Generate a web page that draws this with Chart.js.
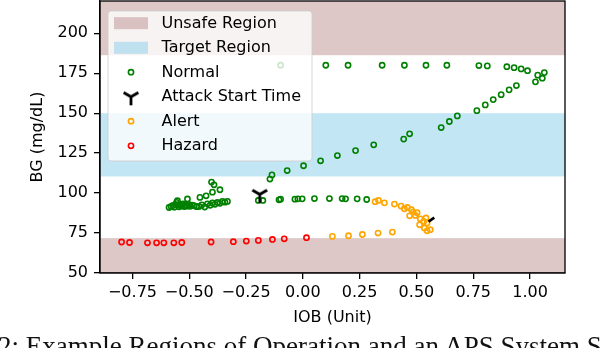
<!DOCTYPE html>
<html>
<head>
<meta charset="utf-8">
<script src="https://cdn.jsdelivr.net/npm/chart.js@4.4.0/dist/chart.umd.min.js"></script>
<style>
  html, body { margin: 0; padding: 0; background: #fff; }
  #wrap { position: relative; width: 602px; height: 348px; overflow: hidden; }
  #caption { position: absolute; left: -2px; top: 333px; white-space: nowrap;
    font-family: "Liberation Serif", "DejaVu Serif", serif; font-size: 27px; line-height: 27px; color: #111; }
</style>
</head>
<body>
<div id="wrap">
  <canvas id="c" width="602" height="348"></canvas>
  <div id="caption">2: Example Regions of Operation and an APS System State</div>
</div>
<script>
// ---------------- data ----------------
const xTicks = [-0.75, -0.5, -0.25, 0, 0.25, 0.5, 0.75, 1.0];
const yTicks = [50, 75, 100, 125, 150, 175, 200];
const xRange = [-0.893, 1.154];
const yRange = [50, 220.2];

const unsafeLow = [50, 71.8];
const unsafeHigh = [186.3, 220.2];
const targetRegion = [110.4, 150];

const normalX = [-0.589,-0.580,-0.572,-0.566,-0.560,-0.556,-0.550,-0.545,-0.540,-0.534,-0.528,-0.522,-0.516,-0.510,-0.503,-0.496,-0.488,-0.479,-0.468,-0.457,-0.445,-0.432,-0.420,-0.408,-0.398,-0.387,-0.376,-0.365,-0.354,-0.343,-0.332,
  -0.552,-0.508,-0.453,-0.426,-0.398,-0.365,-0.391,-0.402,
  -0.196,-0.176,-0.105,-0.098,-0.035,-0.022,-0.003,0.051,0.117,0.173,0.188,0.239,0.281,
  -0.145,-0.136,-0.069,0.003,0.078,0.152,0.232,0.312,0.444,0.470,0.609,0.645,0.680,0.766,0.803,0.838,0.873,0.908,0.940,
  1.024,1.054,1.034,1.063,0.989,0.961,0.930,0.898,0.812,0.775,0.634,0.542,0.447,0.349,0.199,0.101,-0.098];
const normalY = [91.0,91.6,92.3,91.2,93.0,94.2,92.4,91.4,92.8,91.9,93.2,91.6,92.6,91.8,92.9,91.7,92.5,92.1,91.5,91.6,92.6,91.3,93.3,92.4,93.8,93.0,94.1,93.6,94.8,94.3,94.8,
  95.2,96.3,97.3,98.3,100.6,102.1,105.2,106.9,
  95.4,95.4,95.8,96.2,96.2,96.4,96.4,96.6,96.6,96.6,96.4,96.4,96.0,
  108.8,111.4,114.1,117.1,120.2,123.5,126.6,130.2,133.8,137.1,141.0,144.8,148.3,151.6,155.2,158.5,161.6,164.6,167.3,
  169.6,171.9,173.8,175.4,176.6,177.7,178.5,179.1,179.6,179.8,180.0,180.0,180.0,180.0,180.0,180.0,180.0];

const alertX = [0.318,0.333,0.359,0.403,0.432,0.447,0.460,0.478,0.485,0.503,0.470,0.495,0.517,0.542,0.532,0.514,0.547,0.535,0.561,0.547,
  0.130,0.201,0.262,0.331,0.394];
const alertY = [94.6,95.4,93.9,93.1,91.9,90.2,91.0,89.6,88.1,87.7,85.8,86.0,83.9,84.4,82.3,80.2,81.3,78.1,77.1,76.4,
  72.9,73.3,74.1,75.0,75.6];

const hazardX = [-0.798,-0.763,-0.684,-0.644,-0.612,-0.568,-0.533,-0.404,-0.306,-0.249,-0.196,-0.134,-0.082,0.016];
const hazardY = [69.4,69.1,68.9,68.9,68.9,68.9,69.1,69.4,69.6,70.0,70.4,71.0,71.4,72.1];

const attackX = [-0.190];
const attackY = [98.9];
const attack2X = [0.566];
const attack2Y = [83.4];

const legendLabels = ["Unsafe Region", "Target Region", "Normal", "Attack Start Time", "Alert", "Hazard"];

// ---------------- styles ----------------
const UNSAFE_COLOR = "rgba(188,143,143,0.5)";
const TARGET_COLOR = "rgba(135,206,235,0.5)";
const GREEN = "#008000", ORANGE = "#ffa500", RED = "#ff0000";

function zip(xs, ys) { return xs.map((x, i) => ({x: x, y: ys[i]})); }

// tri_down marker image
const tri = document.createElement("canvas");
tri.width = 24; tri.height = 24;
(function () {
  const g = tri.getContext("2d");
  const cx = 12, cy = 11.5, L = 8.5;
  g.strokeStyle = "#000"; g.lineWidth = 2.8; g.lineCap = "butt";
  g.beginPath();
  g.moveTo(cx, cy); g.lineTo(cx, cy + L);
  g.moveTo(cx, cy); g.lineTo(cx - 0.866 * L, cy - 0.5 * L);
  g.moveTo(cx, cy); g.lineTo(cx + 0.866 * L, cy - 0.5 * L);
  g.stroke();
})();

const regionsPlugin = {
  id: "regions",
  beforeDatasetsDraw(chart) {
    const {ctx, chartArea: a, scales: {y}} = chart;
    ctx.save();
    const band = (r, col) => {
      const top = y.getPixelForValue(r[1]), bot = y.getPixelForValue(r[0]);
      ctx.fillStyle = col;
      ctx.fillRect(a.left, top, a.right - a.left, bot - top);
    };
    band(unsafeLow, UNSAFE_COLOR);
    band(unsafeHigh, UNSAFE_COLOR);
    band(targetRegion, TARGET_COLOR);
    ctx.restore();
  },
  afterDatasetsDraw(chart) {
    const {ctx, chartArea: a} = chart;
    ctx.save();
    ctx.strokeStyle = "#000"; ctx.lineWidth = 1.3;
    ctx.strokeRect(a.left, a.top, a.right - a.left, a.bottom - a.top);
    ctx.restore();
  },
  afterDraw(chart) {
    const ctx = chart.ctx;
    ctx.save();
    const bx = 108, by = 11, bw = 204, bh = 150, r = 3;
    ctx.beginPath();
    ctx.roundRect(bx, by, bw, bh, r);
    ctx.fillStyle = "rgba(255,255,255,0.8)";
    ctx.fill();
    ctx.strokeStyle = "rgba(204,204,204,0.8)";
    ctx.lineWidth = 1;
    ctx.stroke();
    const rows = [23.2, 47.8, 72.2, 96.8, 121.2, 145.8];
    ctx.font = "16px 'DejaVu Sans'";
    ctx.textBaseline = "middle";
    legendLabels.forEach((t, i) => {
      ctx.fillStyle = "#000";
      ctx.fillText(t, 161.5, rows[i] + 0.5);
    });
    ctx.fillStyle = UNSAFE_COLOR; ctx.fillRect(114, rows[0] - 6, 34, 12);
    ctx.fillStyle = TARGET_COLOR; ctx.fillRect(114, rows[1] - 6, 34, 12);
    const circ = (yy, col) => {
      ctx.beginPath(); ctx.arc(131, yy, 2.6, 0, Math.PI * 2);
      ctx.strokeStyle = col; ctx.lineWidth = 1.6; ctx.stroke();
    };
    circ(rows[2], GREEN);
    ctx.drawImage(tri, 131 - 12, rows[3] - 11.5);
    circ(rows[4], ORANGE);
    circ(rows[5], RED);
    ctx.restore();
  }
};

const hollow = (col) => ({
  pointRadius: 2.6, pointHoverRadius: 2.6, borderWidth: 1.6,
  borderColor: col, backgroundColor: "rgba(0,0,0,0)", pointStyle: "circle"
});

const noPad = () => ({left: 0, top: 0, right: 0, bottom: 0});

new Chart(document.getElementById("c"), {
  type: "scatter",
  data: {
    datasets: [
      { label: "Attack Start Time", data: zip(attackX, attackY), pointStyle: tri, pointRadius: 12, borderColor: "#000", backgroundColor: "#000" },
      { label: "Attack Start Time 2", data: zip(attack2X, attack2Y), pointStyle: "line", rotation: -35, pointRadius: 3.5, borderWidth: 2.6, borderColor: "#000", backgroundColor: "#000" },
      Object.assign({ label: "Alert", data: zip(alertX, alertY) }, hollow(ORANGE)),
      Object.assign({ label: "Hazard", data: zip(hazardX, hazardY) }, hollow(RED)),
      Object.assign({ label: "Normal", data: zip(normalX, normalY) }, hollow(GREEN))
    ]
  },
  options: {
    responsive: false,
    animation: false,
    events: [],
    layout: { autoPadding: false, padding: { top: 1, right: 37, bottom: 0, left: 0 } },
    plugins: { legend: { display: false }, tooltip: { enabled: false } },
    scales: {
      x: {
        type: "linear", min: xRange[0], max: xRange[1],
        afterBuildTicks: (s) => { s.ticks = xTicks.map(v => ({value: v})); },
        afterFit: (s) => { s.height = 75; s.paddingLeft = 0; s.paddingRight = 0; s.paddingTop = 0; s.paddingBottom = 0; s.getPadding = noPad; },
        ticks: {
          color: "#000", padding: 4, maxRotation: 0, autoSkip: false,
          font: { family: "DejaVu Sans", size: 16, lineHeight: 1.2 },
          callback: (v) => Number(v).toFixed(2).replace("-", "\u2212")
        },
        grid: { drawOnChartArea: false, drawTicks: true, tickLength: 6, color: "#000", lineWidth: 1.3 },
        border: { display: true, color: "#000", width: 1.3 },
        title: { display: true, text: "IOB (Unit)", color: "#000",
          font: { family: "DejaVu Sans", size: 16, lineHeight: 1.2 }, padding: { top: 0, bottom: 21 } }
      },
      y: {
        type: "linear", min: yRange[0], max: yRange[1],
        afterBuildTicks: (s) => { s.ticks = yTicks.map(v => ({value: v})); },
        afterFit: (s) => { s.width = 100; s.paddingTop = 0; s.paddingBottom = 0; s.paddingLeft = 0; s.paddingRight = 0; s.getPadding = noPad; },
        ticks: {
          color: "#000", padding: 6, autoSkip: false,
          font: { family: "DejaVu Sans", size: 16, lineHeight: 1.2 },
          callback: (v) => String(v)
        },
        grid: { drawOnChartArea: false, drawTicks: true, tickLength: 6, color: "#000", lineWidth: 1.3 },
        border: { display: true, color: "#000", width: 1.3 },
        title: { display: true, text: "BG (mg/dL)", color: "#000",
          font: { family: "DejaVu Sans", size: 16, lineHeight: 1.2 }, padding: { top: 28, bottom: 0 } }
      }
    }
  },
  plugins: [regionsPlugin]
});
</script>
</body>
</html>
